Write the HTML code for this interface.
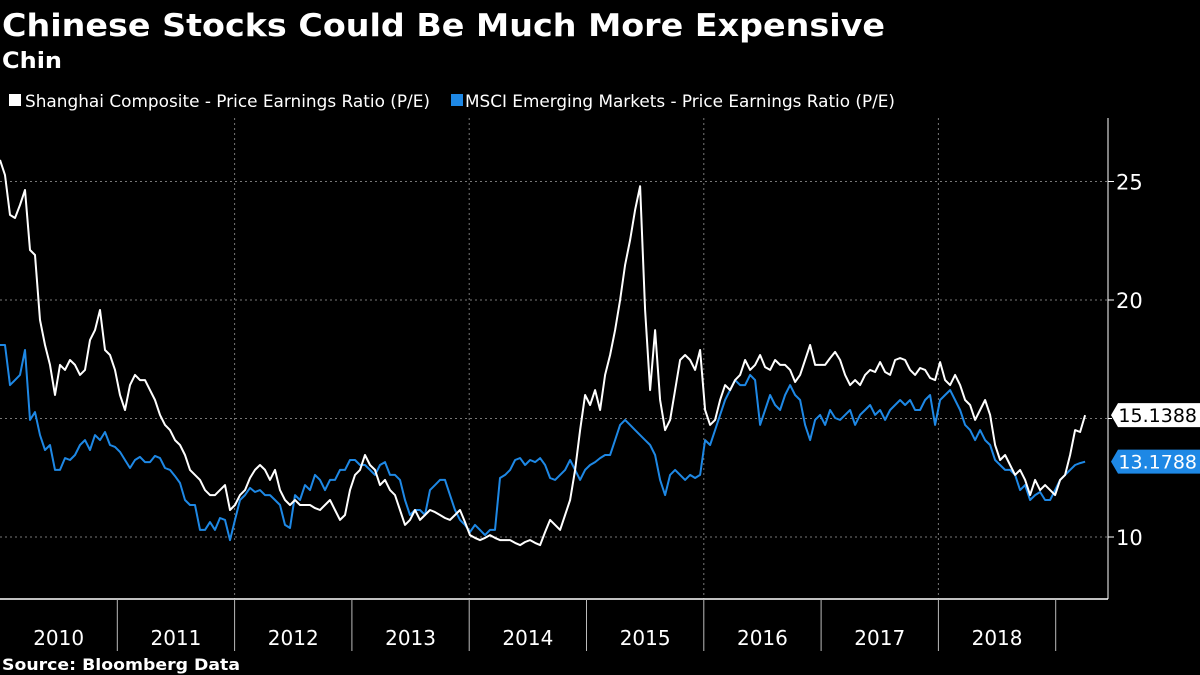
<!DOCTYPE html>
<html><head><meta charset="utf-8">
<style>
html,body{margin:0;padding:0;background:#000;}
svg{display:block;}
text{font-family:"DejaVu Sans","Liberation Sans",sans-serif;}
</style></head>
<body>
<svg id="chart" width="1200" height="675" viewBox="0 0 1200 675">
<rect width="1200" height="675" fill="#000"/>
<text x="2" y="36" font-size="31" font-weight="bold" fill="#fff" textLength="883" lengthAdjust="spacingAndGlyphs">Chinese Stocks Could Be Much More Expensive</text>
<text x="2" y="68" font-size="22" font-weight="bold" fill="#fff" textLength="60" lengthAdjust="spacingAndGlyphs">Chin</text>
<g>
<g>
<rect x="9" y="94" width="12" height="12" fill="#fff"/>
<text x="25" y="107" font-size="17" fill="#fff" textLength="405" lengthAdjust="spacingAndGlyphs">Shanghai Composite - Price Earnings Ratio (P/E)</text>
</g>
<g>
<rect x="451" y="94" width="12" height="12" fill="#1e88e5"/>
<text x="465" y="107" font-size="17" fill="#fff" textLength="430" lengthAdjust="spacingAndGlyphs">MSCI Emerging Markets - Price Earnings Ratio (P/E)</text>
</g>
</g>
<g id="grid"></g>
<g id="axes"></g>
<g id="series"></g>
<text x="2" y="670" font-size="16" font-weight="bold" fill="#fff" textLength="238" lengthAdjust="spacingAndGlyphs">Source: Bloomberg Data</text>
</svg>
<script>
const startYear = 2010.0;
const dateStep = 0.04263; // ~ half-monthly sampling interval in years
const yearLabels = ["2010","2011","2012","2013","2014","2015","2016","2017","2018"];
const yTicks = [10, 20, 25];
const yMinorTicks = [15];
const shanghaiPE = [25.91,25.27,23.59,23.46,24.01,24.64,22.11,21.90,19.16,18.10,
17.26,15.99,17.26,17.05,17.47,17.26,16.84,17.05,18.31,18.73,
19.58,17.89,17.68,17.05,15.99,15.36,16.41,16.84,16.62,16.62,
16.20,15.78,15.15,14.73,14.51,14.09,13.88,13.46,12.83,12.62,
12.41,11.98,11.77,11.77,11.98,12.19,11.14,11.35,11.77,11.98,
12.49,12.83,13.04,12.83,12.41,12.83,11.98,11.56,11.35,11.56,
11.35,11.35,11.35,11.22,11.14,11.35,11.56,11.14,10.72,10.93,
11.98,12.62,12.83,13.46,13.04,12.83,12.19,12.41,11.98,11.77,
11.14,10.51,10.72,11.14,10.72,10.93,11.14,11.05,10.93,10.80,
10.72,10.93,11.14,10.63,10.08,9.96,9.87,9.96,10.08,9.96,
9.87,9.87,9.87,9.75,9.66,9.79,9.87,9.75,9.66,10.21,
10.72,10.51,10.30,10.93,11.56,12.83,14.51,15.99,15.57,16.20,
15.36,16.84,17.68,18.73,20.00,21.48,22.53,23.80,24.80,19.58,
16.20,18.73,15.78,14.51,14.94,16.20,17.47,17.68,17.47,17.05,
17.89,15.36,14.73,14.94,15.78,16.41,16.20,16.62,16.84,17.47,
17.05,17.26,17.68,17.17,17.05,17.47,17.26,17.26,17.05,16.54,
16.84,17.47,18.10,17.26,17.26,17.26,17.55,17.81,17.47,16.84,
16.41,16.62,16.41,16.84,17.05,16.96,17.38,16.96,16.84,17.47,
17.55,17.47,17.05,16.84,17.13,17.05,16.71,16.62,17.38,16.62,
16.41,16.84,16.41,15.78,15.57,14.94,15.36,15.78,15.15,13.88,
13.25,13.46,13.04,12.62,12.83,12.41,11.77,12.41,11.98,12.19,
11.98,11.77,12.41,12.62,13.46,14.51,14.43,15.14];
const msciPE = [18.10,18.10,16.41,16.62,16.84,17.89,14.94,15.27,14.30,13.67,
13.88,12.83,12.83,13.33,13.25,13.46,13.88,14.09,13.67,14.30,
14.09,14.43,13.88,13.80,13.59,13.25,12.91,13.25,13.38,13.16,
13.16,13.42,13.33,12.91,12.83,12.57,12.28,11.56,11.35,11.35,
10.30,10.30,10.63,10.30,10.80,10.72,9.87,10.72,11.56,11.77,
12.07,11.90,11.98,11.77,11.77,11.56,11.35,10.51,10.38,11.77,
11.56,12.19,11.98,12.62,12.41,11.98,12.41,12.41,12.83,12.83,
13.25,13.25,13.04,13.04,12.83,12.62,13.04,13.16,12.62,12.62,
12.41,11.56,10.93,11.14,11.14,10.93,11.98,12.19,12.41,12.41,
11.77,11.14,10.72,10.51,10.21,10.51,10.30,10.08,10.30,10.30,
12.49,12.62,12.83,13.25,13.33,13.04,13.25,13.16,13.33,13.04,
12.49,12.41,12.62,12.83,13.25,12.83,12.41,12.83,13.04,13.16,
13.33,13.46,13.46,14.09,14.73,14.94,14.73,14.51,14.30,14.09,
13.88,13.46,12.41,11.77,12.62,12.83,12.62,12.41,12.62,12.49,
12.62,14.09,13.88,14.51,15.15,15.78,16.20,16.62,16.41,16.41,
16.84,16.62,14.73,15.36,15.99,15.57,15.36,15.99,16.41,15.99,
15.78,14.73,14.09,14.94,15.15,14.73,15.36,15.02,14.94,15.15,
15.36,14.73,15.15,15.36,15.57,15.15,15.36,14.94,15.36,15.57,
15.78,15.57,15.78,15.36,15.36,15.78,15.99,14.73,15.78,15.99,
16.20,15.78,15.36,14.73,14.51,14.09,14.51,14.09,13.88,13.25,
13.04,12.83,12.83,12.62,11.98,12.19,11.56,11.77,11.90,11.56,
11.56,11.98,12.41,12.62,12.83,13.04,13.12,13.1788];
const lastLabels = ["15.1388","13.1788"];

const NS = "http://www.w3.org/2000/svg";
const PX_PER_YEAR = 117.3, X0 = 0;
function xScale(yr){ return X0 + (yr - 2010) * PX_PER_YEAR; }
function yScale(v){ return 537 - (v - 10) * 23.7; }
function mk(tag, attrs, parent){ const e = document.createElementNS(NS, tag); for (const k in attrs) e.setAttribute(k, attrs[k]); parent.appendChild(e); return e; }

const grid = document.getElementById('grid');
const axes = document.getElementById('axes');
const series = document.getElementById('series');
const AX = 1108, PLOT_TOP = 118, PLOT_BOTTOM = 599;

// horizontal grid
[...yTicks, ...yMinorTicks].forEach(v => {
  const l = mk('line', {x1:0, x2:AX, y1:yScale(v), y2:yScale(v), stroke:'#777', 'stroke-width':1, 'stroke-dasharray':'2,3'}, grid);
  
  
});
// vertical grid every two years
[2012, 2014, 2016, 2018].forEach(yr => {
  const l = mk('line', {x1:xScale(yr), x2:xScale(yr), y1:PLOT_TOP, y2:PLOT_BOTTOM, stroke:'#777', 'stroke-width':1, 'stroke-dasharray':'2,3'}, grid);
  
  
});
// y axis
let ya = mk('line', {x1:AX, x2:AX, y1:PLOT_TOP, y2:PLOT_BOTTOM, stroke:'#fff', 'stroke-width':1}, axes);


yTicks.forEach(v => {
  const t = mk('line', {x1:AX, x2:AX+6, y1:yScale(v), y2:yScale(v), stroke:'#fff'}, axes);
  
  
  const tx = mk('text', {x:AX+8, y:yScale(v)+8, 'font-size':21, fill:'#fff'}, axes);
  tx.textContent = v;
  
  
});
yMinorTicks.forEach(v => {
  const t = mk('line', {x1:AX, x2:AX+4, y1:yScale(v), y2:yScale(v), stroke:'#fff'}, axes);
  
  
});
// x axis
let xa = mk('line', {x1:0, x2:AX, y1:PLOT_BOTTOM, y2:PLOT_BOTTOM, stroke:'#fff', 'stroke-width':1.5}, axes);


yearLabels.forEach((lab, i) => {
  const yr = 2010 + i;
  if (i > 0) {
    const s = mk('line', {x1:xScale(yr), x2:xScale(yr), y1:PLOT_BOTTOM, y2:651, stroke:'#bbb', 'stroke-width':1}, axes);
    
    
  }
  const t = mk('text', {x:xScale(yr + 0.5), y:645, 'font-size':20, fill:'#fff', 'text-anchor':'middle'}, axes);
  t.textContent = lab;
  
  
});
let lastDiv = mk('line', {x1:xScale(2019), x2:xScale(2019), y1:PLOT_BOTTOM, y2:651, stroke:'#bbb', 'stroke-width':1}, axes);



function drawLine(vals, color, name){
  const d = vals.map((v, i) => (i ? 'L' : 'M') + xScale(startYear + i * dateStep).toFixed(1) + ',' + yScale(v).toFixed(1)).join('');
  const p = mk('path', {d:d, fill:'none', stroke:color, 'stroke-width':2, 'stroke-linejoin':'round'}, series);
  
  
}
drawLine(msciPE, '#1e88e5', 'msci-line');
drawLine(shanghaiPE, '#ffffff', 'shanghai-line');

function lastTag(v, label, bg, fg, name){
  const y = yScale(v);
  const g = mk('g', {}, axes);
  
  
  mk('path', {d:`M${AX+3},${y} L${AX+10},${y-12} L1200,${y-12} L1200,${y+12} L${AX+10},${y+12} Z`, fill:bg}, g);
  const t = mk('text', {x:1197, y:y+7, 'font-size':19, fill:fg, 'text-anchor':'end'}, g);
  t.textContent = label;
}
lastTag(shanghaiPE[shanghaiPE.length-1], lastLabels[0], '#fff', '#000', 'last-value-shanghai');
lastTag(msciPE[msciPE.length-1], lastLabels[1], '#1e88e5', '#fff', 'last-value-msci');
</script>
</body></html>
